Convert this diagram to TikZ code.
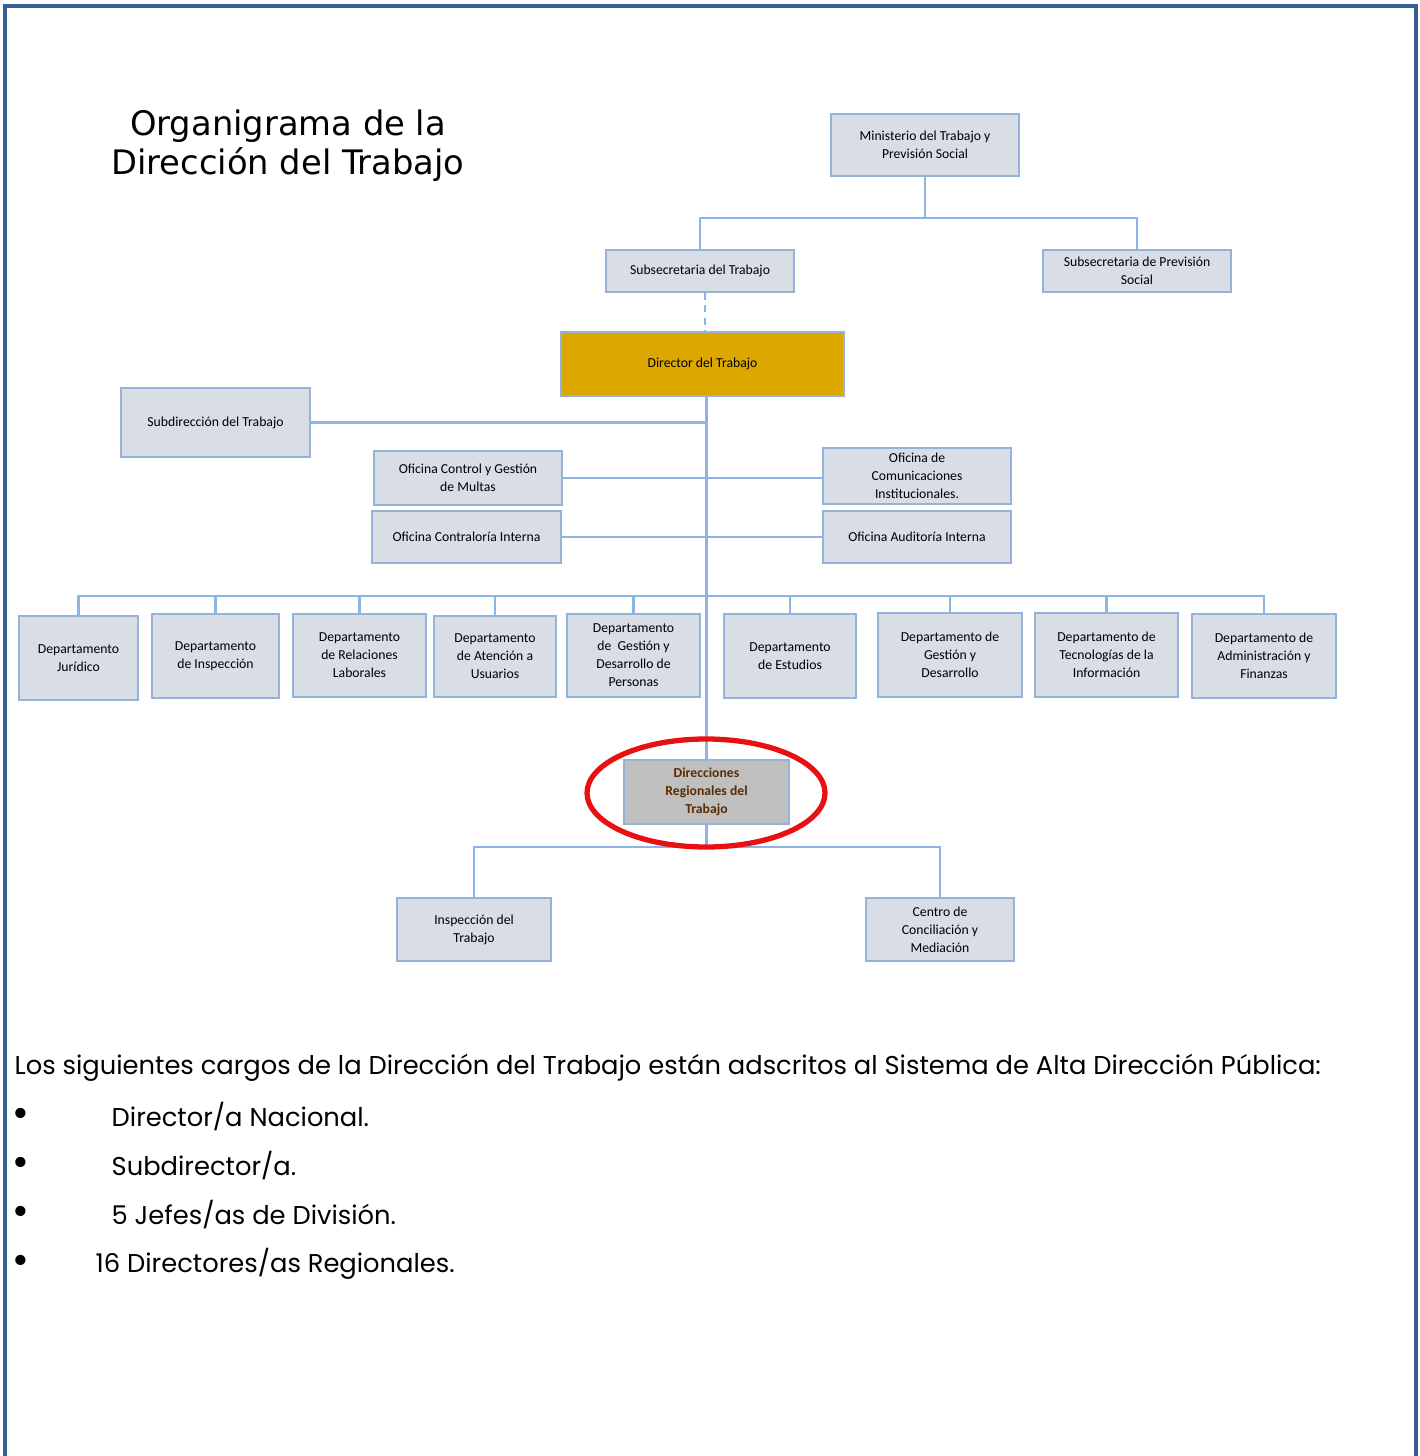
\documentclass[tikz,border=0pt]{standalone}
\usepackage{fontspec}
\usetikzlibrary{calc}
\newfontfamily\boxfont{Carlito}
\newfontfamily\titlefont{DejaVu Sans}
\newfontfamily\bodyfont{Poppins}
\definecolor{boxfill}{HTML}{D8DDE6}
\definecolor{boxline}{HTML}{95B3D7}
\definecolor{linkcol}{HTML}{8EB4E3}
\definecolor{dirgold}{HTML}{DCA800}
\definecolor{regfill}{HTML}{BFBFBF}
\definecolor{regtext}{HTML}{5A2D00}
\definecolor{framecol}{HTML}{366092}
\definecolor{markred}{HTML}{E81010}

\begin{document}
\begin{tikzpicture}[
  unit/.style={draw=boxline,fill=boxfill,line width=0.6pt,rectangle,align=center,inner sep=0pt,
    font=\boxfont\fontsize{3.9}{5.1}\selectfont},
  link/.style={linkcol,line width=0.6pt},
  bodytext/.style={font=\bodyfont\fontsize{7.33}{9}\selectfont,anchor=west,inner sep=0pt},
  bullet/.style={font=\titlefont\fontsize{10}{11}\selectfont,inner sep=0pt}]
\useasboundingbox (0,0) rectangle (14.19,-14.56);
\draw[framecol,line width=1pt] (0.05,-14.56) -- (0.05,-0.06) -- (14.16,-0.06) -- (14.16,-14.56);

\node[font=\titlefont\fontsize{9.6}{11.1}\selectfont,align=center] (TTL) at (2.88,-1.455) {Organigrama de la\\Dirección del Trabajo};

% top levels
\node[unit,minimum width=1.88cm,minimum height=0.62cm] (MIN) at (9.25,-1.45) {Ministerio del Trabajo y\\Previsión Social};
\node[unit,minimum width=1.88cm,minimum height=0.42cm] (SST) at (7.00,-2.71) {Subsecretaria del Trabajo};
\node[unit,minimum width=1.88cm,minimum height=0.42cm] (SSP) at (11.37,-2.71) {Subsecretaria de Previsión\\Social};
\node[unit,fill=dirgold,minimum width=2.83cm,minimum height=0.64cm] (DIR) at (7.025,-3.64) {Director del Trabajo};
\draw[link] (MIN.south) -- ++(0,-0.41) coordinate (B0);
\draw[link] (SST.north) |- (B0) -| (SSP.north);
\draw[link,dash pattern=on 2pt off 1.5pt] ($(SST.south)+(0.05,0)$) -- ($(SST.south |- DIR.north)+(0.05,0)$);

% staff offices
\node[unit,minimum width=1.89cm,minimum height=0.69cm] (SUB) at (2.155,-4.225) {Subdirección del Trabajo};
\node[unit,minimum width=1.88cm,minimum height=0.54cm] (OCM) at (4.68,-4.78) {Oficina Control y Gestión\\de Multas};
\node[unit,minimum width=1.88cm,minimum height=0.56cm] (OCC) at (9.17,-4.76) {Oficina de\\Comunicaciones\\Institucionales.};
\node[unit,minimum width=1.89cm,minimum height=0.52cm] (OCR) at (4.665,-5.37) {Oficina Contraloría Interna};
\node[unit,minimum width=1.88cm,minimum height=0.52cm] (OAI) at (9.17,-5.37) {Oficina Auditoría Interna};

% departments
\node[unit,minimum width=1.19cm,minimum height=0.84cm] (DJU) at (0.785,-6.58) {Departamento\\Jurídico};
\node[unit,minimum width=1.27cm,minimum height=0.84cm] (DIN) at (2.155,-6.56) {Departamento\\de Inspección};
\node[unit,minimum width=1.33cm,minimum height=0.83cm] (DRL) at (3.595,-6.555) {Departamento\\de Relaciones\\Laborales};
\node[unit,minimum width=1.22cm,minimum height=0.81cm] (DAU) at (4.95,-6.565) {Departamento\\de Atención a\\Usuarios};
\node[unit,minimum width=1.33cm,minimum height=0.83cm] (DGP) at (6.335,-6.555) {Departamento\\de \ Gestión y\\Desarrollo de\\Personas};
\node[unit,minimum width=1.32cm,minimum height=0.84cm] (DES) at (7.90,-6.56) {Departamento\\de Estudios};
\node[unit,minimum width=1.44cm,minimum height=0.84cm] (DGD) at (9.50,-6.55) {Departamento de\\Gestión y\\Desarrollo};
\node[unit,minimum width=1.43cm,minimum height=0.84cm] (DTI) at (11.065,-6.55) {Departamento de\\Tecnologías de la\\Información};
\node[unit,minimum width=1.44cm,minimum height=0.84cm] (DAF) at (12.64,-6.56) {Departamento de\\Administración y\\Finanzas};

% regional level
\node[unit,fill=regfill,font=\boxfont\bfseries\fontsize{3.9}{5.1}\selectfont,text=regtext,minimum width=1.65cm,minimum height=0.64cm] (DRT) at (7.065,-7.92) {Direcciones\\Regionales del\\Trabajo};
\node[unit,minimum width=1.54cm,minimum height=0.63cm] (INS) at (4.74,-9.295) {Inspección del\\Trabajo};
\node[unit,minimum width=1.48cm,minimum height=0.63cm] (CCM) at (9.40,-9.295) {Centro de\\Conciliación y\\Mediación};

\draw[link] (DRT.north |- DIR.south) -- (DRT.north);
\draw[link] (SUB.east) -- (SUB.east -| DRT.north);
\draw[link] (OCM.east) -- (OCM.east -| OCC.west);
\draw[link] (OCR.east) -- (OAI.west);
\coordinate (B1) at (DRT.north |- 0,-5.96);
\draw[link] (DJU.north) |- (B1) -| (DAF.north);
\foreach \n in {DIN,DRL,DAU,DGP,DES,DGD,DTI} {
  \draw[link] (\n.north) -- (\n.north |- B1);
}
\draw[link] (DRT.south) -- ++(0,-0.22) coordinate (B2);
\draw[link] (INS.north) |- (B2) -| (CCM.north);
\draw[markred,line width=1.5pt] (7.06,-7.93) ellipse (1.19 and 0.54);

% text below
\node[bodytext] (TXT) at (0.14,-10.68) {Los siguientes cargos de la Dirección del Trabajo están adscritos al Sistema de Alta Dirección Pública:};
\foreach \t [count=\i] in {{Director/a Nacional.},{Subdirector/a.},{5 Jefes/as de División.}} {
  \node[bullet] (BUL\i) at (0.21,-11.17-0.49*\i+0.49) {•};
  \node[bodytext] (ITM\i) at (1.11,-11.17-0.49*\i+0.49) {\t};
}
\node[bullet] (BUL4) at (0.21,-12.64) {•};
\node[bodytext] (ITM4) at (0.95,-12.64) {16 Directores/as Regionales.};
\end{tikzpicture}
\end{document}
